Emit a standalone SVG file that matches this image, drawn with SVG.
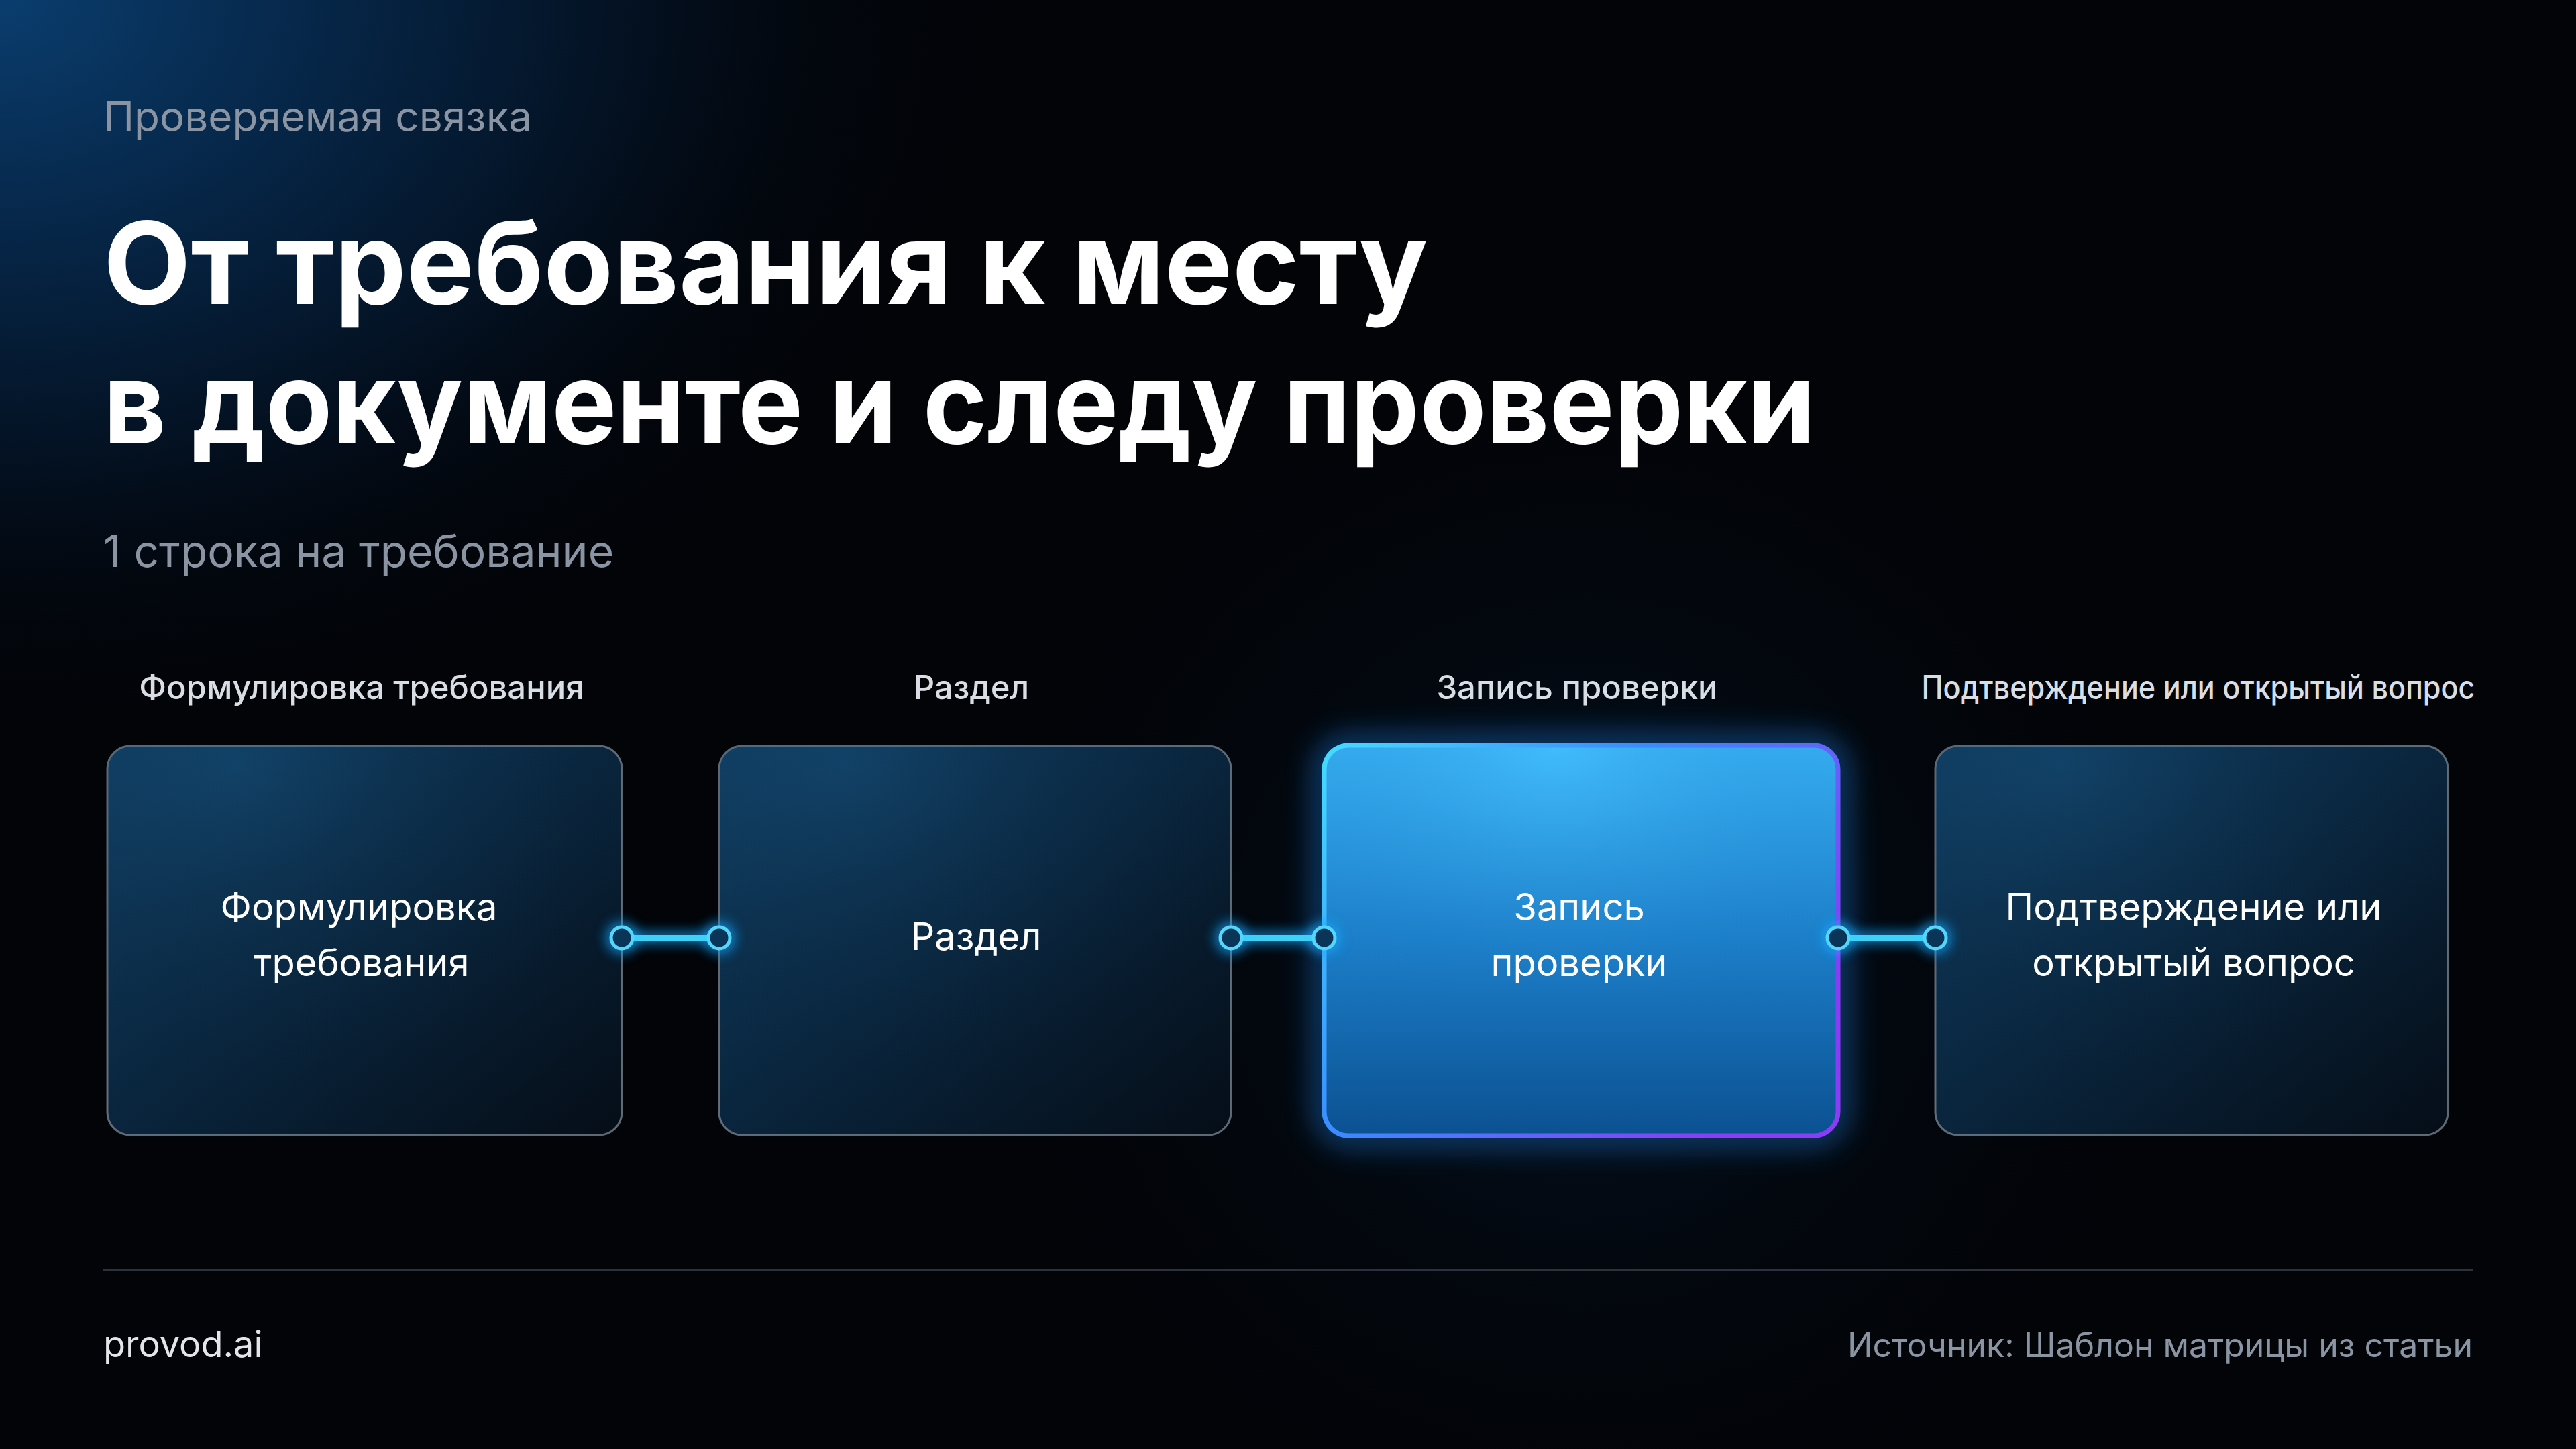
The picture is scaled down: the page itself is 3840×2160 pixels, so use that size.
<svg xmlns="http://www.w3.org/2000/svg" width="3840" height="2160" viewBox="0 0 3840 2160">
<defs>
  <radialGradient id="bgGlow" cx="0" cy="0" r="1" gradientUnits="userSpaceOnUse" gradientTransform="translate(0 0) scale(1500 1100)">
    <stop offset="0" stop-color="#0a3d6e"/>
    <stop offset="0.35" stop-color="#062444"/>
    <stop offset="0.7" stop-color="#030c18"/>
    <stop offset="1" stop-color="#020408" stop-opacity="0"/>
  </radialGradient>
  <radialGradient id="midGlow" cx="2360" cy="1420" r="900" gradientUnits="userSpaceOnUse">
    <stop offset="0" stop-color="#0b2a50" stop-opacity="0.45"/>
    <stop offset="1" stop-color="#020408" stop-opacity="0"/>
  </radialGradient>
  <linearGradient id="cardFill" x1="0" y1="0" x2="1" y2="1">
    <stop offset="0" stop-color="#0f3b5e"/>
    <stop offset="0.45" stop-color="#0a2740"/>
    <stop offset="1" stop-color="#050d17"/>
  </linearGradient>
  <radialGradient id="cardSheen" cx="0.25" cy="0.05" r="0.8">
    <stop offset="0" stop-color="#1a5a8a" stop-opacity="0.35"/>
    <stop offset="1" stop-color="#0a2740" stop-opacity="0"/>
  </radialGradient>
  <linearGradient id="activeFill" x1="0" y1="0" x2="0" y2="1">
    <stop offset="0" stop-color="#38b2f4"/>
    <stop offset="0.5" stop-color="#1c7ec8"/>
    <stop offset="1" stop-color="#0b5192"/>
  </linearGradient>
  <radialGradient id="activeSheen" cx="0.45" cy="0" r="0.7">
    <stop offset="0" stop-color="#45c0ff" stop-opacity="0.7"/>
    <stop offset="1" stop-color="#1a78c4" stop-opacity="0"/>
  </radialGradient>
  <linearGradient id="activeStroke" x1="0" y1="0" x2="1" y2="0.6">
    <stop offset="0" stop-color="#45dcff"/>
    <stop offset="0.45" stop-color="#3a8cff"/>
    <stop offset="1" stop-color="#8a3cf8"/>
  </linearGradient>
  <linearGradient id="topShine" x1="0" y1="0" x2="1" y2="0">
    <stop offset="0" stop-color="#7fe6ff" stop-opacity="0"/>
    <stop offset="0.5" stop-color="#ffffff" stop-opacity="0.95"/>
    <stop offset="1" stop-color="#c9a8ff" stop-opacity="0"/>
  </linearGradient>
  <filter id="glow" x="-30%" y="-30%" width="160%" height="160%">
    <feGaussianBlur stdDeviation="22"/>
  </filter>
  <filter id="glowSmall" x="-100%" y="-300%" width="300%" height="700%">
    <feGaussianBlur stdDeviation="8"/>
  </filter>
  <style>
    .kicker{font-family:Inter,"Noto Sans",sans-serif;font-size:62px;fill:#8a94a2}
    .title{font-family:Inter,"Noto Sans",sans-serif;font-weight:700;font-size:170px;fill:#ffffff}
    .head{font-family:Inter,"Noto Sans",sans-serif;font-weight:500;font-size:49px;fill:#d9dee4;text-anchor:middle}
    .label{font-family:Inter,"Noto Sans",sans-serif;font-size:56px;fill:#ffffff;text-anchor:middle}
    .foot{font-family:Inter,"Noto Sans",sans-serif;font-size:50px}
    .card{fill:url(#cardFill);stroke:#7d8a96;stroke-opacity:0.75;stroke-width:3}
    .sheen{fill:url(#cardSheen)}
    .wire{stroke:#3fd0f8;stroke-width:8;stroke-linecap:round}
    .wireGlow{stroke:#1aa8ff;stroke-width:22;stroke-opacity:0.55}
    .port{fill:#0a3558;stroke:#52d6fb;stroke-width:5}
    .portGlow{fill:#1aa8ff;opacity:0.55}
  </style>
</defs>

<rect width="3840" height="2160" fill="#020408"/>
<rect width="3840" height="2160" fill="url(#bgGlow)"/>
<rect width="3840" height="2160" fill="url(#midGlow)"/>

<text class="kicker" x="154" y="196">Проверяемая связка</text>
<text class="title" x="154" y="453" textLength="1974" lengthAdjust="spacingAndGlyphs">От требования к месту</text>
<text class="title" x="154" y="661" textLength="2552" lengthAdjust="spacingAndGlyphs">в документе и следу проверки</text>
<text class="kicker" x="154" y="845" style="font-size:66px">1 строка на требование</text>

<g id="node-1">
  <text class="head" x="539" y="1042">Формулировка требования</text>
  <rect class="card" x="160" y="1112" width="767" height="580" rx="34"/>
  <rect class="sheen" x="160" y="1112" width="767" height="580" rx="34"/>
  <text class="label" x="535" y="1372">Формулировка</text>
  <text class="label" x="539" y="1455">требования</text>
</g>

<g id="node-2">
  <text class="head" x="1448" y="1042">Раздел</text>
  <rect class="card" x="1072" y="1112" width="763" height="580" rx="34"/>
  <rect class="sheen" x="1072" y="1112" width="763" height="580" rx="34"/>
  <text class="label" x="1455" y="1416">Раздел</text>
</g>

<g id="node-3">
  <text class="head" x="2351" y="1042">Запись проверки</text>
  <rect x="1974" y="1111" width="766" height="582" rx="36" fill="none" stroke="#1e90ff" stroke-width="24" opacity="0.6" filter="url(#glow)"/>
  <rect x="1974" y="1111" width="766" height="582" rx="36" fill="url(#activeFill)"/>
  <rect x="1974" y="1111" width="766" height="582" rx="36" fill="url(#activeSheen)"/>
  <rect x="1974" y="1111" width="766" height="582" rx="36" fill="none" stroke="url(#activeStroke)" stroke-width="7"/>
  <line x1="2080" y1="1111" x2="2640" y2="1111" stroke="url(#topShine)" stroke-width="5"/>
  <text class="label" x="2354" y="1372">Запись</text>
  <text class="label" x="2354" y="1455">проверки</text>
</g>

<g id="node-4">
  <text class="head" x="3277" y="1042" textLength="825" lengthAdjust="spacingAndGlyphs">Подтверждение или открытый вопрос</text>
  <rect class="card" x="2885" y="1112" width="764" height="580" rx="34"/>
  <rect class="sheen" x="2885" y="1112" width="764" height="580" rx="34"/>
  <text class="label" x="3270" y="1372">Подтверждение или</text>
  <text class="label" x="3270" y="1455">открытый вопрос</text>
</g>

<g id="connectors">
  <g filter="url(#glowSmall)">
    <line class="wireGlow" x1="927" y1="1398" x2="1072" y2="1398"/>
    <line class="wireGlow" x1="1835" y1="1398" x2="1974" y2="1398"/>
    <line class="wireGlow" x1="2740" y1="1398" x2="2885" y2="1398"/>
    <circle class="portGlow" cx="927" cy="1398" r="26"/>
    <circle class="portGlow" cx="1072" cy="1398" r="26"/>
    <circle class="portGlow" cx="1835" cy="1398" r="26"/>
    <circle class="portGlow" cx="1974" cy="1398" r="26"/>
    <circle class="portGlow" cx="2740" cy="1398" r="26"/>
    <circle class="portGlow" cx="2885" cy="1398" r="26"/>
  </g>
  <line class="wire" x1="927" y1="1398" x2="1072" y2="1398"/>
  <line class="wire" x1="1835" y1="1398" x2="1974" y2="1398"/>
  <line class="wire" x1="2740" y1="1398" x2="2885" y2="1398"/>
  <circle class="port" cx="927" cy="1398" r="16"/>
  <circle class="port" cx="1072" cy="1398" r="16"/>
  <circle class="port" cx="1835" cy="1398" r="16"/>
  <circle class="port" cx="1974" cy="1398" r="16"/>
  <circle class="port" cx="2740" cy="1398" r="16"/>
  <circle class="port" cx="2885" cy="1398" r="16"/>
</g>

<line x1="154" y1="1893" x2="3686" y2="1893" stroke="#2b323b" stroke-width="3"/>
<text class="foot" x="154" y="2023" fill="#e2e6eb" style="font-size:54px">provod.ai</text>
<text class="foot" x="3686" y="2023" fill="#8a94a2" text-anchor="end">Источник: Шаблон матрицы из статьи</text>
</svg>
